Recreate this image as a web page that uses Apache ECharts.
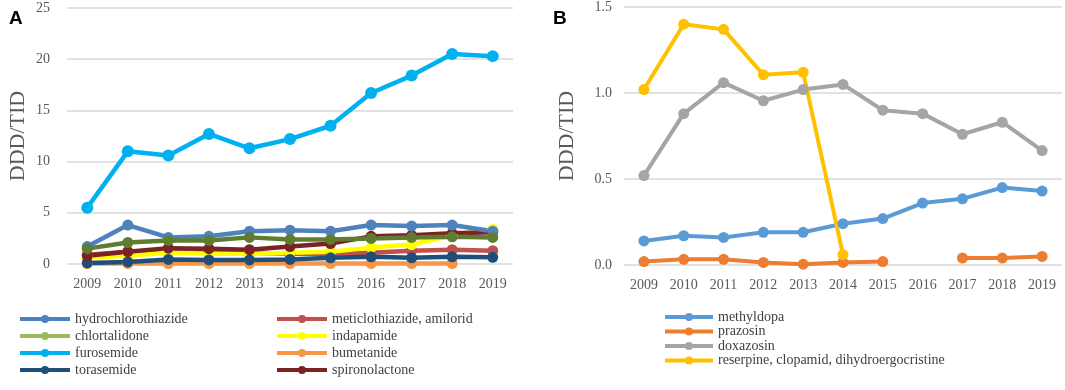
<!DOCTYPE html>
<html>
<head>
<meta charset="utf-8">
<script src="https://cdn.jsdelivr.net/npm/echarts@6/dist/echarts.min.js"></script>
<style>
  html, body { margin: 0; padding: 0; background: #fff; }
  #chart { width: 1065px; height: 390px; }
</style>
</head>
<body>
<div id="chart"></div>
<script>
var years = ['2009', '2010', '2011', '2012', '2013', '2014', '2015', '2016', '2017', '2018', '2019'];

// panel A
var hydrochlorothiazide = [1.7, 3.8, 2.6, 2.7, 3.2, 3.3, 3.2, 3.8, 3.7, 3.8, 3.2];
var meticlothiazide = [0.9, 1.2, 1.4, 1.3, 1.1, 1.0, 1.0, 1.1, 1.3, 1.4, 1.3];
var chlortalidone = [1.5, 2.1, 2.3, 2.3, 2.6, 2.4, 2.4, 2.5, 2.6, 2.65, 2.6];
var indapamide = [0.6, 0.8, 1.1, 1.0, 1.0, 1.1, 1.2, 1.6, 1.9, 2.8, 3.4];
var furosemide = [5.5, 11.0, 10.6, 12.7, 11.3, 12.2, 13.5, 16.7, 18.4, 20.5, 20.3];
var bumetanide = [0.05, 0.05, 0.05, 0.05, 0.05, 0.05, 0.05, 0.05, 0.05, 0.05, null];
var torasemide = [0.1, 0.2, 0.45, 0.4, 0.4, 0.45, 0.6, 0.7, 0.6, 0.7, 0.65];
var spironolactone = [0.8, 1.2, 1.55, 1.5, 1.4, 1.7, 2.0, 2.7, 2.8, 3.0, 3.1];

// panel B
var methyldopa = [0.14, 0.17, 0.16, 0.19, 0.19, 0.24, 0.27, 0.36, 0.385, 0.45, 0.43];
var prazosin = [0.02, 0.033, 0.033, 0.015, 0.005, 0.015, 0.02, null, 0.04, 0.04, 0.05];
var doxazosin = [0.52, 0.88, 1.06, 0.955, 1.02, 1.05, 0.90, 0.88, 0.76, 0.83, 0.665];
var reserpine = [1.02, 1.40, 1.37, 1.106, 1.12, 0.06, null, null, null, null, null];

var serifFont = '"Liberation Serif", "DejaVu Serif", serif';
var gridColor = '#d9d9d9';
var labelColor = '#595959';

var myChart = echarts.init(document.getElementById('chart'));

function line(name, data, color, idx, width, size) {
    return {
        name: name,
        type: 'line',
        xAxisIndex: idx,
        yAxisIndex: idx,
        data: data,
        symbol: 'circle',
        symbolSize: size,
        connectNulls: false,
        itemStyle: { color: color },
        lineStyle: { color: color, width: width },
        emphasis: { disabled: true },
        animation: false
    };
}

function xAx(idx) {
    return {
        type: 'category',
        gridIndex: idx,
        data: years,
        boundaryGap: true,
        axisLine: { show: false },
        axisTick: { show: false },
        axisLabel: { color: labelColor, fontFamily: serifFont, fontSize: 14, margin: 13 }
    };
}

function yAx(idx, max, interval, digits, margin) {
    return {
        type: 'value',
        gridIndex: idx,
        min: 0,
        max: max,
        interval: interval,
        name: 'DDD/TID',
        nameLocation: 'middle',
        nameGap: idx === 0 ? 38 : 46,
        nameTextStyle: { color: labelColor, fontFamily: serifFont, fontSize: 22 },
        axisLine: { show: false },
        axisTick: { show: false },
        axisLabel: {
            color: labelColor, fontFamily: serifFont, fontSize: 14, margin: margin,
            formatter: function (v) { return v.toFixed(digits); }
        },
        splitLine: { lineStyle: { color: gridColor, width: 1.5 } }
    };
}

var legendText = { color: '#404040', fontFamily: serifFont, fontSize: 14 };

var option = {
    backgroundColor: '#fff',
    animation: false,
    title: [
        { text: 'A', left: 4, top: 4, textStyle: { fontFamily: 'Arial, "Liberation Sans", sans-serif', fontWeight: 'bold', fontSize: 19, color: '#000' } },
        { text: 'B', left: 548, top: 4, textStyle: { fontFamily: 'Arial, "Liberation Sans", sans-serif', fontWeight: 'bold', fontSize: 19, color: '#000' } }
    ],
    grid: [
        { left: 67, top: 8, width: 446, height: 256 },
        { left: 624, top: 7, width: 438, height: 258 }
    ],
    xAxis: [xAx(0), xAx(1)],
    yAxis: [yAx(0, 25, 5, 0, 17), yAx(1, 1.5, 0.5, 1, 12)],
    legend: [
        {
            orient: 'vertical', left: 18, top: 312, padding: 0, itemWidth: 50, itemHeight: 10, itemGap: 3,
            textStyle: legendText, lineStyle: { width: 4 },
            data: ['hydrochlorothiazide', { name: 'chlortalidone', itemStyle: { color: '#9bbb59' }, lineStyle: { color: '#9bbb59', width: 4 } }, 'furosemide', 'torasemide']
        },
        {
            orient: 'vertical', left: 275, top: 312, padding: 0, itemWidth: 50, itemHeight: 10, itemGap: 3,
            textStyle: legendText, lineStyle: { width: 4 },
            data: ['meticlothiazide, amilorid', 'indapamide', 'bumetanide', 'spironolactone']
        },
        {
            orient: 'vertical', left: 663, top: 310, padding: 0, itemWidth: 48, itemHeight: 10, itemGap: 0.5,
            textStyle: legendText, lineStyle: { width: 4 },
            data: ['methyldopa', 'prazosin', 'doxazosin', 'reserpine, clopamid, dihydroergocristine']
        }
    ],
    series: [
        line('meticlothiazide, amilorid', meticlothiazide, '#c0504d', 0, 4.5, 11),
        line('bumetanide', bumetanide, '#f79646', 0, 4.5, 11),
        line('indapamide', indapamide, '#ffff00', 0, 4.5, 11),
        line('torasemide', torasemide, '#1f4e79', 0, 4.5, 11),
        line('spironolactone', spironolactone, '#7b2323', 0, 4.5, 11),
        line('hydrochlorothiazide', hydrochlorothiazide, '#4f81bd', 0, 4.5, 11),
        line('chlortalidone', chlortalidone, '#5f7d30', 0, 4.5, 11),
        line('furosemide', furosemide, '#00b0f0', 0, 4.5, 12),
        line('methyldopa', methyldopa, '#5b9bd5', 1, 4, 11),
        line('prazosin', prazosin, '#ed7d31', 1, 4, 11),
        line('doxazosin', doxazosin, '#a5a5a5', 1, 4, 11),
        line('reserpine, clopamid, dihydroergocristine', reserpine, '#ffc000', 1, 4, 11)
    ]
};
myChart.setOption(option);
</script>
</body>
</html>
